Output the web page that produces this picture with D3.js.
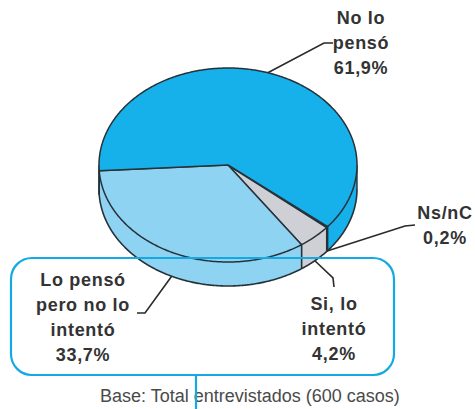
<!DOCTYPE html>
<html>
<head>
<meta charset="utf-8">
<script src="https://cdn.jsdelivr.net/npm/d3@7"></script>
<style>
  html, body { margin: 0; padding: 0; background: #ffffff; }
  svg { display: block; }
</style>
</head>
<body>
<svg id="chart" width="475" height="409"></svg>
<script>
// ---- data ----
const categories = ["Ns/nC", "Si, lo intentó", "Lo pensó pero no lo intentó", "No lo pensó"];
const values = [0.2, 4.2, 33.7, 61.9];
const valueLabels = ["0,2%", "4,2%", "33,7%", "61,9%"];
const labelLines = [["Ns/nC"], ["Si, lo", "intentó"], ["Lo pensó", "pero no lo", "intentó"], ["No lo", "pensó"]];
const footnote = "Base: Total entrevistados (600 casos)";

// ---- style / layout ----
const colors = ["#e4e5ea", "#cfd0d6", "#8fd3f3", "#16b1ea"];
const outline = "#26323a";
const textColor = "#333333";
const cx = 228, cy = 165, rx = 129, ry = 97, depth = 24;
const startDeg = 129.4;

// label layout: [text center x, first baseline y], leader elbow + end, leader from top (false = bottom of side)
const labelLayout = [
  { x: 445, y: 219, elbow: [405, 226], end: [415, 225], fromTop: false },
  { x: 334, y: 310, elbow: [333, 278], end: [334, 287], fromTop: false },
  { x: 83,  y: 286, elbow: [145, 313], end: [137, 313], fromTop: false },
  { x: 361, y: 24,  elbow: [324, 43],  end: [333, 43],  fromTop: true }
];
const lineH = 25;

const svg = d3.select("#chart");

const pie = d3.pie().sort(null).value(d => d)
  .startAngle(startDeg * Math.PI / 180)
  .endAngle(startDeg * Math.PI / 180 + 2 * Math.PI);
const arcs = pie(values);

// parametric ellipse point; t measured from +x axis, clockwise on screen
const P = (t, dz = 0) => [cx + rx * Math.cos(t), cy + ry * Math.sin(t) + dz];
const toT = a => a - Math.PI / 2;
const line = d3.line();
const arcPts = (t0, t1, dz = 0) => {
  const n = Math.max(2, Math.ceil(Math.abs(t1 - t0) / 0.01));
  return d3.range(n + 1).map(i => P(t0 + (t1 - t0) * i / n, dz));
};

// ---- sides (front half only) ----
const gSide = svg.append("g");
arcs.forEach((a, i) => {
  const t0 = toT(a.startAngle), t1 = toT(a.endAngle);
  [-1, 0, 1, 2].forEach(k => {
    const lo = Math.max(t0, 2 * Math.PI * k), hi = Math.min(t1, Math.PI + 2 * Math.PI * k);
    if (hi > lo) {
      const pts = arcPts(lo, hi).concat(arcPts(hi, lo, depth));
      gSide.append("path").attr("d", line(pts) + "Z")
        .attr("fill", colors[i]).attr("stroke", "none");
      // vertical edges at boundaries
      [lo, hi].forEach(t => {
        gSide.append("path").attr("d", line([P(t), P(t, depth)]))
          .attr("stroke", outline).attr("stroke-width", 1.4).attr("fill", "none");
      });
    }
  });
});
// bottom rim
gSide.append("path").attr("d", line(arcPts(0, Math.PI, depth)))
  .attr("fill", "none").attr("stroke", outline).attr("stroke-width", 1.6);

// ---- top faces ----
const gTop = svg.append("g");
arcs.forEach((a, i) => {
  const t0 = toT(a.startAngle), t1 = toT(a.endAngle);
  const pts = [[cx, cy]].concat(arcPts(t0, t1));
  gTop.append("path").attr("d", line(pts) + "Z")
    .attr("fill", colors[i]).attr("stroke", outline)
    .attr("stroke-width", 1.5).attr("stroke-linejoin", "round");
});

// ---- leader lines + labels ----
const gLab = svg.append("g");
arcs.forEach((a, i) => {
  const L = labelLayout[i];
  const tm = toT((a.startAngle + a.endAngle) / 2);
  const start = P(tm, L.fromTop ? 0 : depth);
  gLab.append("path").attr("d", line([start, L.elbow, L.end]))
    .attr("fill", "none").attr("stroke", "#2a2a2a").attr("stroke-width", 1.6);
  const lines = labelLines[i].concat([valueLabels[i]]);
  const txt = gLab.append("text")
    .attr("font-family", "'Liberation Sans', Arial, sans-serif")
    .attr("font-weight", "bold").attr("font-size", 18)
    .attr("letter-spacing", "0.7px")
    .attr("fill", textColor).attr("text-anchor", "middle");
  lines.forEach((s, j) => {
    txt.append("tspan").attr("x", L.x).attr("y", L.y + j * lineH).text(s);
  });
});

// ---- footnote ----
svg.append("text")
  .attr("x", 100).attr("y", 402)
  .attr("font-family", "'Liberation Sans', Arial, sans-serif")
  .attr("font-size", 18).attr("fill", "#4a4a4a")
  .text(footnote);

// ---- rounded box + connector ----
svg.append("rect")
  .attr("x", 11).attr("y", 258).attr("width", 383).attr("height", 117)
  .attr("rx", 21).attr("ry", 21)
  .attr("fill", "none").attr("stroke", "#14a9e3").attr("stroke-width", 2.2);
svg.append("line")
  .attr("x1", 196).attr("x2", 196).attr("y1", 375).attr("y2", 409)
  .attr("stroke", "#14a9e3").attr("stroke-width", 2.2);
</script>
</body>
</html>
